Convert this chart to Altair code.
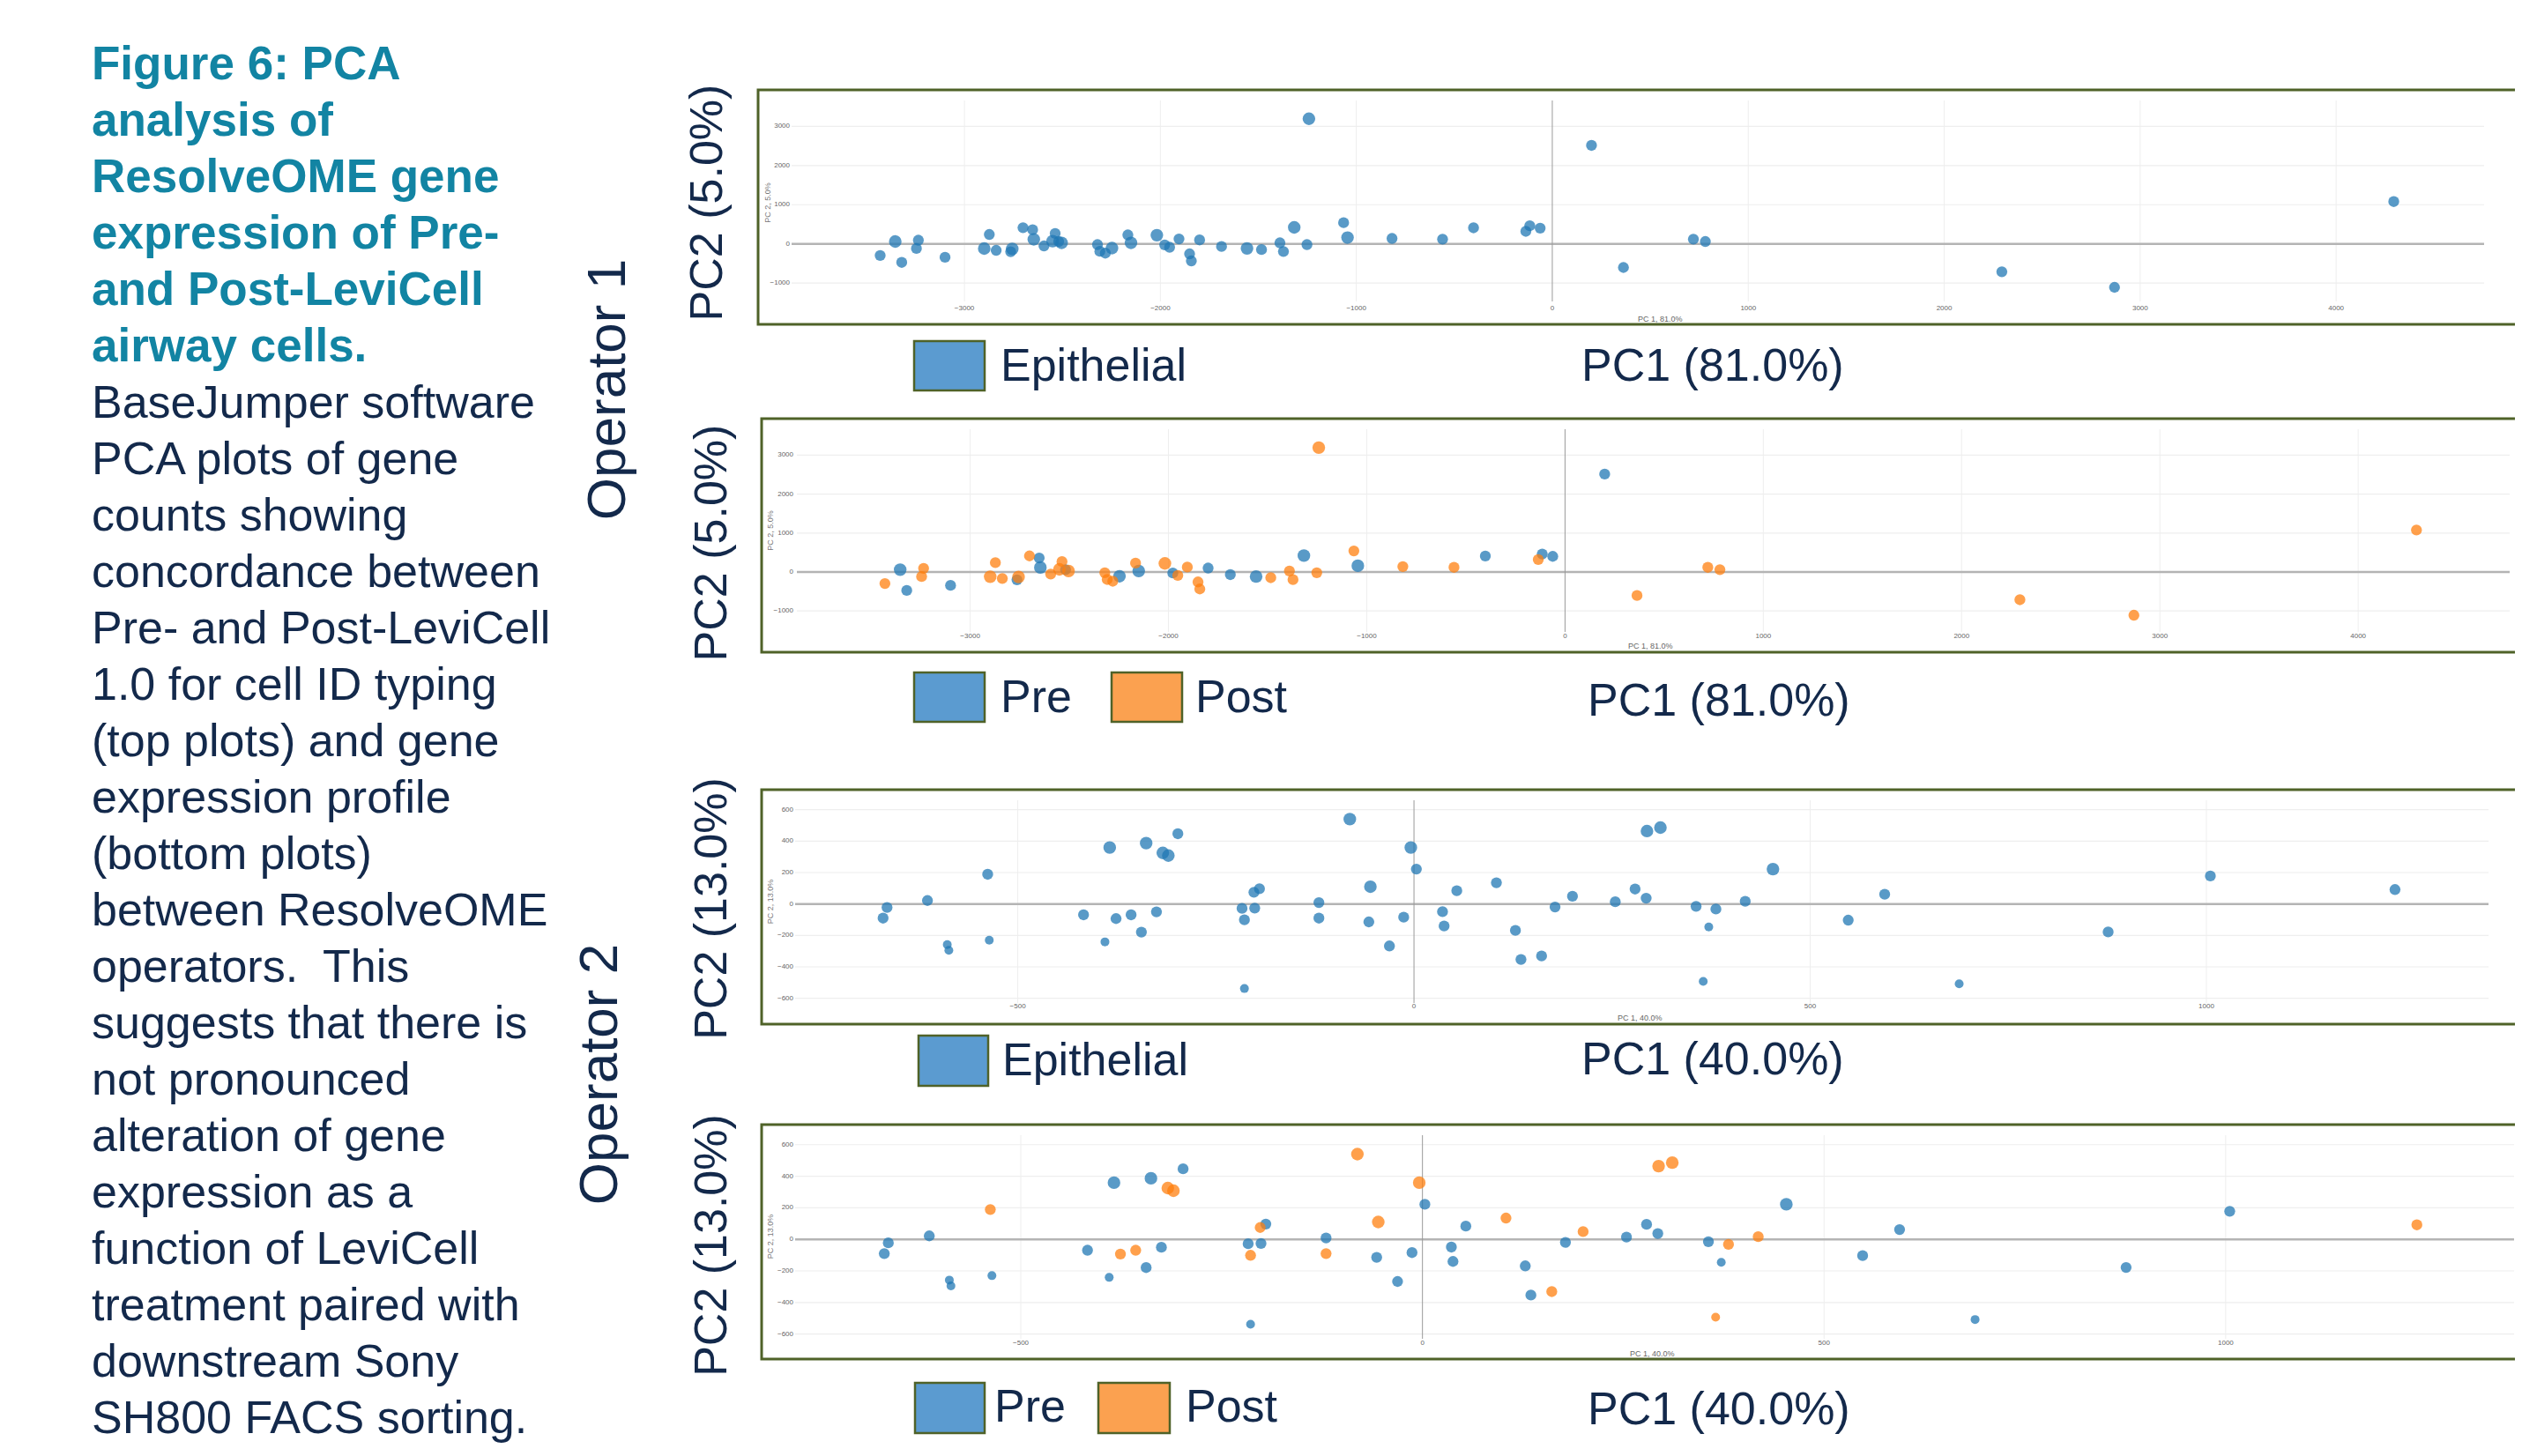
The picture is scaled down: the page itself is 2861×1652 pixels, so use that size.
import altair as alt
import pandas as pd

# ---------------- data ----------------
# Operator 1 (PC1 81.0 %, PC2 5.0 %)
op1_pc1 = [-3430, -3353, -3320, -3245, -3235, -3099, -2899, -2873, -2838, -2764,
           -2756, -2701, -2652, -2646, -2594, -2550, -2537, -2519, -2504, -2321,
           -2309, -2281, -2247, -2166, -2150, -2018, -1978, -1953, -1905, -1851,
           -1842, -1800, -1688, -1558, -1484, -1390, -1372, -1317, -1252, -1242,
           -1065, -1045, -818, -560, -402, -135, -115, -62, 200, 363,
           720, 781, 2294, 2869, 4294]
op1_pc2 = [-295, 60, -473, -117, 94, -342, -120, 240, -165, -200,
           -128, 413, 361, 116, -52, 68, 267, 60, 26, -19,
           -191, -237, -108, 229, 26, 221, -26, -86, 127, -255,
           -435, 101, -67, -116, -146, 26, -195, 421, -19, 3193,
           541, 161, 139, 120, 410, 320, 462, 402, 2513, -603,
           120, 60, -712, -1109, 1079]
op1_size = ("m l m m m m l m m m "
            "l m m l m l m m l m "
            "m m l m l l m m m m "
            "m m m l m m m l m l "
            "m l m m m m m m m m "
            "m m m m m").split()
op1_group = ("Post Pre Pre Post Post Pre Post Post Post Pre "
             "Post Post Pre Pre Post Post Post Pre Post Post "
             "Post Post Pre Post Pre Post Pre Post Post Post "
             "Post Pre Pre Pre Post Post Post Pre Post Post "
             "Post Pre Post Post Pre Post Pre Pre Pre Post "
             "Post Post Post Post Post").split()

# Operator 2 (PC1 40.0 %, PC2 13.0 %)
op2_pc1 = [-670, -665, -614, -589, -587, -538, -536, -417, -390, -384,
           -376, -357, -344, -338, -325, -317, -310, -298, -217, -214,
           -214, -202, -201, -195, -120, -120, -81, -57, -55, -31,
           -13, -4, 3, 36, 38, 54, 104, 128, 135, 161,
           178, 200, 254, 279, 293, 294, 311, 356, 365, 372,
           381, 418, 453, 548, 594, 688, 876, 1005, 1238]
op2_pc2 = [-90, -22, 22, -258, -295, 189, -230, -69, -241, 359,
           -93, -69, -179, 387, -50, 325, 308, 447, -28, -101,
           -538, 75, -26, 97, 9, -90, 540, -114, 110, -267,
           -84, 359, 222, -49, -140, 84, 135, -168, -353, -331,
           -19, 49, 14, 95, 37, 464, 486, -15, -493, -146,
           -32, 17, 222, -103, 62, -508, -178, 178, 92]
op2_size = ("m m m s s m s m s l "
            "m m m l m l l m m m "
            "s m m m m m l m l m "
            "m l m m m m m m m m "
            "m m m m m l l m s s "
            "m m l m m s m m m").split()
op2_group = ("Pre Pre Pre Pre Pre Post Pre Pre Pre Pre "
             "Post Post Pre Pre Pre Post Post Pre Pre Post "
             "Pre Post Pre Pre Pre Post Post Pre Post Pre "
             "Pre Post Pre Pre Pre Pre Post Pre Pre Post "
             "Pre Post Pre Pre Pre Post Post Pre Post Pre "
             "Post Post Pre Pre Pre Pre Pre Pre Post").split()

op1_xticks = [-3000, -2000, -1000, 0, 1000, 2000, 3000, 4000]
op1_yticks = [-1000, 0, 1000, 2000, 3000]
op2_xticks = [-500, 0, 500, 1000]
op2_yticks = [-600, -400, -200, 0, 200, 400, 600]

title_lines = ["Figure 6: PCA", "analysis of", "ResolveOME gene",
               "expression of Pre-", "and Post-LeviCell", "airway cells."]
body_lines = ["BaseJumper software", "PCA plots of gene", "counts showing",
              "concordance between", "Pre- and Post-LeviCell",
              "1.0 for cell ID typing", "(top plots) and gene",
              "expression profile", "(bottom plots)", "between ResolveOME",
              "operators.\u00a0 This", "suggests that there is", "not pronounced",
              "alteration of gene", "expression as a", "function of LeviCell",
              "treatment paired with", "downstream Sony",
              "SH800 FACS sorting."]

# ---------------- styling ----------------
FONT = "Liberation Sans"
NAVY = "#13294b"
TEAL = "#1284a3"
OLIVE = "#4f6228"
BLUE = "#1f77b4"
ORANGE = "#ff7f0e"
SW_BLUE = "#5b9bd0"
SW_ORANGE = "#fba150"
W, H = 2845, 1634
OFF = 8


def c(v):
    return v - OFF


one = pd.DataFrame({"k": [0]})


def txt(text, x, y, size, color, angle=0, weight="normal", align="left",
        baseline="middle", lh=None, font=FONT):
    kw = dict(text=text, fontSize=size, color=color, angle=angle,
              fontWeight=weight, align=align, baseline=baseline, font=font)
    if lh is not None:
        kw["lineHeight"] = lh
    return alt.Chart(one).mark_text(**kw).encode(x=alt.value(c(x)), y=alt.value(c(y)))


def rect(x0, y0, x1, y1, fill, stroke, sw):
    return alt.Chart(one).mark_rect(fill=fill, stroke=stroke, strokeWidth=sw).encode(
        x=alt.value(c(x0)), x2=alt.value(c(x1)), y=alt.value(c(y0)), y2=alt.value(c(y1)))


def fmt(v):
    return ("\u2212" + str(abs(v))) if v < 0 else str(v)


def panel(pc1, pc2, size, group, cdom, crng, xdom, xr, ydom, yr, box,
          xticks, yticks, xlab_y, ylab_x, xtitle, xt_pos, ytitle, yt_pos):
    xs = alt.Scale(domain=xdom, range=[c(xr[0]), c(xr[1])], nice=False, zero=False)
    ys = alt.Scale(domain=ydom, range=[c(yr[0]), c(yr[1])], nice=False, zero=False)
    L = []
    L.append(rect(box[0], box[1], box[2], box[3], "white", OLIVE, 3))
    gx = pd.DataFrame({"v": [t for t in xticks if t != 0]})
    L.append(alt.Chart(gx).mark_rule(color="#eeeeee", strokeWidth=1).encode(
        x=alt.X("v:Q", scale=xs, axis=None),
        y=alt.value(c(yr[1])), y2=alt.value(c(yr[0]))))
    gy = pd.DataFrame({"v": [t for t in yticks if t != 0]})
    L.append(alt.Chart(gy).mark_rule(color="#eeeeee", strokeWidth=1.2).encode(
        y=alt.Y("v:Q", scale=ys, axis=None),
        x=alt.value(c(xr[0])), x2=alt.value(c(xr[1]))))
    z = pd.DataFrame({"v": [0]})
    L.append(alt.Chart(z).mark_rule(color="#b4b4b4", strokeWidth=2.5).encode(
        y=alt.Y("v:Q", scale=ys, axis=None),
        x=alt.value(c(xr[0])), x2=alt.value(c(xr[1]))))
    L.append(alt.Chart(z).mark_rule(color="#9a9a9a", strokeWidth=1).encode(
        x=alt.X("v:Q", scale=xs, axis=None),
        y=alt.value(c(yr[1])), y2=alt.value(c(yr[0]))))
    tx = pd.DataFrame({"v": xticks, "lab": [fmt(t) for t in xticks]})
    L.append(alt.Chart(tx).mark_text(fontSize=8, color="#666666", font=FONT,
                                     align="center", baseline="middle").encode(
        x=alt.X("v:Q", scale=xs, axis=None), y=alt.value(c(xlab_y)), text="lab:N"))
    ty = pd.DataFrame({"v": yticks, "lab": [fmt(t) for t in yticks]})
    L.append(alt.Chart(ty).mark_text(fontSize=8, color="#666666", font=FONT,
                                     align="right", baseline="middle").encode(
        y=alt.Y("v:Q", scale=ys, axis=None), x=alt.value(c(ylab_x)), text="lab:N"))
    L.append(txt(xtitle, xt_pos[0], xt_pos[1], 9, "#666666"))
    L.append(txt(ytitle, yt_pos[0], yt_pos[1], 9, "#777777", angle=270, align="center"))
    df = pd.DataFrame({"pc1": pc1, "pc2": pc2, "sz": size, "grp": group})
    order = {k: i for i, k in enumerate(cdom)}
    df["o"] = df["grp"].map(order)
    df = df.sort_values("o", kind="stable").reset_index(drop=True)
    L.append(alt.Chart(df).mark_circle(opacity=0.74).encode(
        x=alt.X("pc1:Q", scale=xs, axis=None),
        y=alt.Y("pc2:Q", scale=ys, axis=None),
        color=alt.Color("grp:N", scale=alt.Scale(domain=cdom, range=crng), legend=None),
        size=alt.Size("sz:O", scale=alt.Scale(domain=["s", "m", "l"], range=[100, 205, 320]),
                      legend=None)))
    return L


layers = []
# caption
layers.append(txt(title_lines, 104, 90, 53, TEAL, weight="bold",
                  baseline="alphabetic", lh=64))
layers.append(txt(body_lines, 104, 474, 52, NAVY, baseline="alphabetic", lh=64))
# operator labels
layers.append(txt("Operator 1", 690, 442, 62, NAVY, angle=270, align="center"))
layers.append(txt("Operator 2", 681, 1219, 62, NAVY, angle=270, align="center"))
# PC2 titles
layers.append(txt("PC2 (5.0%)", 803, 230, 52, NAVY, angle=270, align="center"))
layers.append(txt("PC2 (5.0%)", 808, 616, 52, NAVY, angle=270, align="center"))
layers.append(txt("PC2 (13.0%)", 808, 1031, 52, NAVY, angle=270, align="center"))
layers.append(txt("PC2 (13.0%)", 808, 1413, 52, NAVY, angle=270, align="center"))

epi1 = ["Epithelial"] * len(op1_pc1)
epi2 = ["Epithelial"] * len(op2_pc1)

layers += panel(op1_pc1, op1_pc2, op1_size, epi1, ["Epithelial"], [BLUE],
                [-3882, 4755], [898, 2818], [-1469, 3660], [342, 114],
                (860, 102, 2900, 368), op1_xticks, op1_yticks, 350, 896,
                "PC 1, 81.0%", (1858, 362), "PC 2, 5.0%", (871, 230))
layers += panel(op1_pc1, op1_pc2, op1_size, op1_group, ["Pre", "Post"], [BLUE, ORANGE],
                [-3874, 4764], [904, 2847], [-1538, 3665], [717, 487],
                (864, 475, 2900, 740), op1_xticks, op1_yticks, 722, 900,
                "PC 1, 81.0%", (1847, 733), "PC 2, 5.0%", (874, 602))
layers += panel(op2_pc1, op2_pc2, op2_size, epi2, ["Epithelial"], [BLUE],
                [-781, 1356], [902, 2823], [-630, 660], [1138, 908],
                (864, 896, 2900, 1162), op2_xticks, op2_yticks, 1142, 900,
                "PC 1, 40.0%", (1835, 1155), "PC 2, 13.0%", (874, 1023))
layers += panel(op2_pc1, op2_pc2, op2_size, op2_group, ["Pre", "Post"], [BLUE, ORANGE],
                [-781, 1359], [902, 2852], [-630, 660], [1519, 1288],
                (864, 1276, 2900, 1542), op2_xticks, op2_yticks, 1524, 900,
                "PC 1, 40.0%", (1849, 1536), "PC 2, 13.0%", (874, 1403))

# legends and PC1 titles under each panel
layers.append(rect(1037, 387, 1117, 443, SW_BLUE, OLIVE, 2.5))
layers.append(txt("Epithelial", 1135, 416, 52, NAVY))
layers.append(txt("PC1 (81.0%)", 1794, 416, 52, NAVY))

layers.append(rect(1037, 763, 1117, 819, SW_BLUE, OLIVE, 2.5))
layers.append(txt("Pre", 1135, 792, 52, NAVY))
layers.append(rect(1261, 763, 1341, 819, SW_ORANGE, OLIVE, 2.5))
layers.append(txt("Post", 1356, 792, 52, NAVY))
layers.append(txt("PC1 (81.0%)", 1801, 796, 52, NAVY))

layers.append(rect(1042, 1175, 1121, 1232, SW_BLUE, OLIVE, 2.5))
layers.append(txt("Epithelial", 1137, 1204, 52, NAVY))
layers.append(txt("PC1 (40.0%)", 1794, 1203, 52, NAVY))

layers.append(rect(1038, 1569, 1117, 1626, SW_BLUE, OLIVE, 2.5))
layers.append(txt("Pre", 1128, 1597, 52, NAVY))
layers.append(rect(1246, 1569, 1327, 1626, SW_ORANGE, OLIVE, 2.5))
layers.append(txt("Post", 1345, 1597, 52, NAVY))
layers.append(txt("PC1 (40.0%)", 1801, 1600, 52, NAVY))

chart = alt.layer(*layers).resolve_scale(
    x="independent", y="independent", color="independent", size="independent"
).properties(
    width=W, height=H, padding=0, autosize=alt.AutoSizeParams(type="none"),
    background="white",
).configure_view(stroke=None)

chart.save("out.html", embed_options={"renderer": "svg", "actions": False})
